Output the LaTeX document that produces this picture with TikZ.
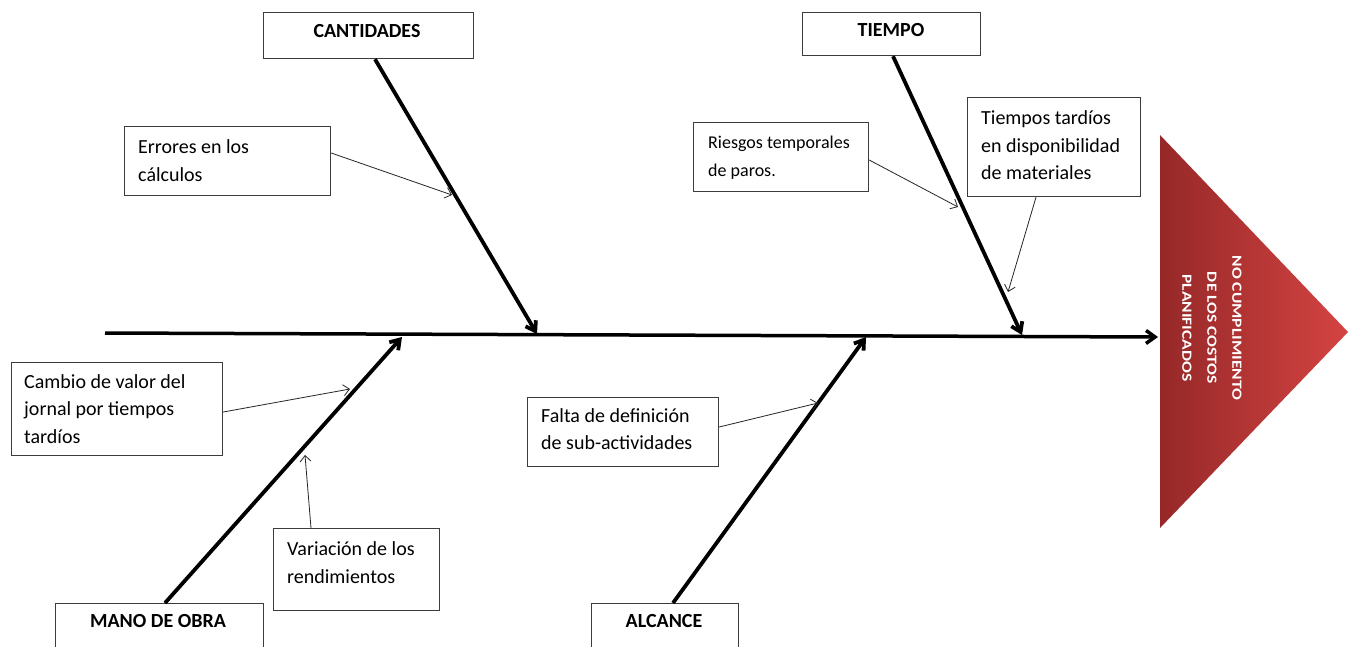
\documentclass[tikz,border=0pt]{standalone}
\usepackage{fontspec}
\setmainfont{Carlito}
\newfontfamily\stretchfont[FakeStretch=1.25]{Carlito}
\usetikzlibrary{arrows.meta,calc}
\definecolor{boxline}{RGB}{60,60,60}
\definecolor{redL}{RGB}{150,40,40}
\definecolor{redR}{RGB}{212,68,66}
\begin{document}
\begin{tikzpicture}[x=1pt,y=-1pt,
  box/.style={draw=boxline, line width=1.2pt, fill=white, inner sep=0pt, anchor=north west},
  txt/.style={anchor=north west, inner sep=0pt, align=left, font=\fontsize{20}{27.5}\selectfont, execute at begin node=\strut},
  smalltxt/.style={anchor=north west, inner sep=0pt, align=left, font=\fontsize{18}{28}\selectfont, execute at begin node=\strut},
  title/.style={anchor=base, inner sep=0pt, font=\fontsize{20}{24}\selectfont\bfseries},
  spine/.style={line width=3.5pt, -{Straight Barb[length=9pt,width=13pt]}},
  bone/.style={line width=3.8pt, -{Straight Barb[length=9pt,width=12pt]}},
  cause/.style={line width=0.8pt, draw=black!85, -{Straight Barb[length=6pt,width=11pt]}}]
\useasboundingbox (0,0) rectangle (1348,646);
\fill[white] (0,0) rectangle (1348,646);

% effect triangle
\shade[left color=redL, right color=redR] (1160,135) -- (1348,332) -- (1160,528) -- cycle;
\node[rotate=-90, align=center, text=white, inner sep=0pt,
      font=\fontsize{14}{25}\stretchfont\bfseries] (effect) at (1212,328)
  {NO CUMPLIMIENTO\\DE LOS COSTOS\\PLANIFICADOS};

% spine
\coordinate (spineL) at (105,333);
\coordinate (spineR) at (1158,337);
\draw[spine] (spineL) -- (spineR);

% category boxes
\node[box, minimum width=210pt, minimum height=46pt] (cantBox) at (263,12) {};
\node[title] (cantT) at (367,37.5) {CANTIDADES};
\node[box, minimum width=178pt, minimum height=43pt] (tiempoBox) at (802,12) {};
\node[title] (tiempoT) at (891,36.5) {TIEMPO};
\node[box, minimum width=208pt, minimum height=50pt] (manoBox) at (55,603) {};
\node[title] (manoT) at (158,627.5) {MANO DE OBRA};
\node[box, minimum width=147pt, minimum height=50pt] (alcBox) at (591,603) {};
\node[title] (alcT) at (664,627.5) {ALCANCE};

% bone tips
\coordinate (cantTip) at (537,334);
\coordinate (tiempoTip) at (1022,335);
\coordinate (manoTip) at (402,337);
\coordinate (alcTip) at (866,337);

\draw[bone] ($(cantBox.south west)+(112,0)$) -- (cantTip);
\draw[bone] ($(tiempoBox.south west)+(91,0)$) -- (tiempoTip);
\draw[bone] ($(manoBox.north west)+(110,0)$) -- (manoTip);
\draw[bone] ($(alcBox.north west)+(82,0)$) -- (alcTip);

% cause boxes
\node[box, minimum width=206pt, minimum height=69pt] (errBox) at (124,126) {};
\node[txt] (errT) at (138,139.5) {Errores en los\\cálculos};

\node[box, minimum width=175pt, minimum height=69pt] (riesgoBox) at (693,122) {};
\node[smalltxt] (riesgoT) at (708,136) {Riesgos temporales\\de paros.};

\node[box, minimum width=173pt, minimum height=99pt] (tardioBox) at (967,97) {};
\node[txt] (tardioT) at (981,110.5) {Tiempos tardíos\\en disponibilidad\\de materiales};

\node[box, minimum width=211pt, minimum height=93pt] (cambioBox) at (11,362) {};
\node[txt] (cambioT) at (24,374) {Cambio de valor del\\jornal por tiempos\\tardíos};

\node[box, minimum width=166pt, minimum height=82pt] (variaBox) at (273,528) {};
\node[txt] (variaT) at (287,541.5) {Variación de los\\rendimientos};

\node[box, minimum width=191pt, minimum height=69pt] (faltaBox) at (527,397) {};
\node[txt] (faltaT) at (541,408) {Falta de definición\\de sub-actividades};

% cause arrow tips
\coordinate (errTip) at (452,195);
\coordinate (riesgoTip) at (958,207);
\coordinate (tardioTip) at (1008,292);
\coordinate (cambioTip) at (350,389);
\coordinate (variaTip) at (305,455);
\coordinate (faltaTip) at (818,403);

\draw[cause] ($(errBox.north east)+(0,27)$) -- (errTip);
\draw[cause] ($(riesgoBox.north east)+(0,38)$) -- (riesgoTip);
\draw[cause] ($(tardioBox.south west)+(69,0)$) -- (tardioTip);
\draw[cause] ($(cambioBox.north east)+(0,50)$) -- (cambioTip);
\draw[cause] ($(variaBox.north west)+(38,0)$) -- (variaTip);
\draw[cause] ($(faltaBox.north east)+(0,30)$) -- (faltaTip);
\end{tikzpicture}
\end{document}
